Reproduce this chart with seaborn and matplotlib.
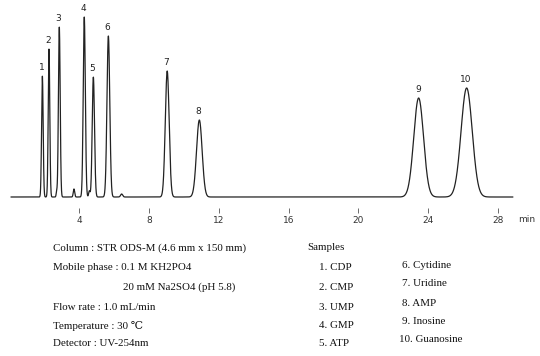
import numpy as np
import pandas as pd
import seaborn as sns
import matplotlib.pyplot as plt

# Peak table (retention time in min, height, width sigma)
peak_ids = ["1", "2", "3", "4", "5", "6", "7", "8", "9", "10"]
peak_rt = [1.90, 2.28, 2.87, 4.30, 4.82, 5.68, 9.05, 10.89, 23.45, 26.20]
peak_height = [121, 148, 170, 180, 120, 161, 126, 77, 99, 109]
peak_sigma = [0.045, 0.045, 0.05, 0.06, 0.065, 0.08, 0.11, 0.16, 0.28, 0.32]

# small unlabelled impurity peaks
minor_rt = [2.72, 3.71, 4.59, 6.44]
minor_height = [5, 8, 6, 3]
minor_sigma = [0.03, 0.04, 0.04, 0.06]

tick_vals = [4, 8, 12, 16, 20, 24, 28]

conditions = [
    "Column : STR ODS-M (4.6 mm x 150 mm)",
    "Mobile phase : 0.1 M KH2PO4",
    "20 mM Na2SO4 (pH 5.8)",
    "Flow rate : 1.0 mL/min",
    "Temperature : 30 \u2103",
    "Detector : UV-254nm",
]
samples_a = ["1. CDP", "2. CMP", "3. UMP", "4. GMP", "5. ATP"]
samples_b = ["6. Cytidine", "7. Uridine", "8. AMP", "9. Inosine", "10. Guanosine"]

# build the detector trace from the peak table
t = np.linspace(0.1, 28.85, 4000)
signal = np.zeros_like(t)
for rt, h, s in zip(peak_rt + minor_rt, peak_height + minor_height, peak_sigma + minor_sigma):
    signal += h * np.exp(-0.5 * ((t - rt) / s) ** 2)
df = pd.DataFrame({"time": t, "signal": signal})

sns.set_style("white")
W, H = 540, 356
fig = plt.figure(figsize=(W / 100, H / 100), dpi=100)


def fx(px):
    return px / W


def fy(py):
    return 1 - py / H


# axes: 0 min at x=9.2px, 17.46 px per min; baseline at y=197px
ax = fig.add_axes([fx(9.2), fy(208), 30 * 17.46 / W, (208 - 5) / H])
sns.lineplot(data=df, x="time", y="signal", ax=ax, color="#222222", linewidth=0.9)
ax.set_xlim(0, 30)
ax.set_ylim(-11, 192)

for pid, rt, h in zip(peak_ids, peak_rt, peak_height):
    ax.text(rt - 0.05, h + 4, pid, ha="center", va="bottom", fontsize=6.5, color="#222222")

sns.despine(ax=ax, left=True, bottom=True)
ax.set_yticks([])
ax.set_xticks(tick_vals)
ax.set_xticklabels([str(v) for v in tick_vals], fontsize=6.5, color="#333333")
ax.tick_params(axis="x", direction="out", length=3.6, width=0.6, color="#555555", pad=2, bottom=True)
ax.set_xlabel("")
ax.set_ylabel("")

fig.text(fx(518), fy(219), "min", fontsize=6.5, color="#333333", va="center", ha="left")

serif = ["Liberation Serif", "DejaVu Serif", "DejaVu Sans", "Noto Sans CJK JP"]
fs = 7.9
rows = [248, 268, 287, 307, 326, 344]
for i, line in enumerate(conditions):
    x = 123 if i == 2 else 53
    fig.text(fx(x), fy(rows[i]), line, fontsize=fs, family=serif, va="center", ha="left", color="#111111")

fig.text(fx(307), fy(248), "Samples", fontsize=fs, family=serif, va="center", ha="left", color="#111111")
for i, s in enumerate(samples_a):
    fig.text(fx(319), fy(rows[i + 1]), s, fontsize=fs, family=serif, va="center", ha="left", color="#111111")
rows_b = [265, 284, 303, 322, 340]
for i, s in enumerate(samples_b):
    x = 399 if s.startswith("10") else 402
    fig.text(fx(x), fy(rows_b[i]), s, fontsize=fs, family=serif, va="center", ha="left", color="#111111")

fig.savefig("out.png", dpi=100)
